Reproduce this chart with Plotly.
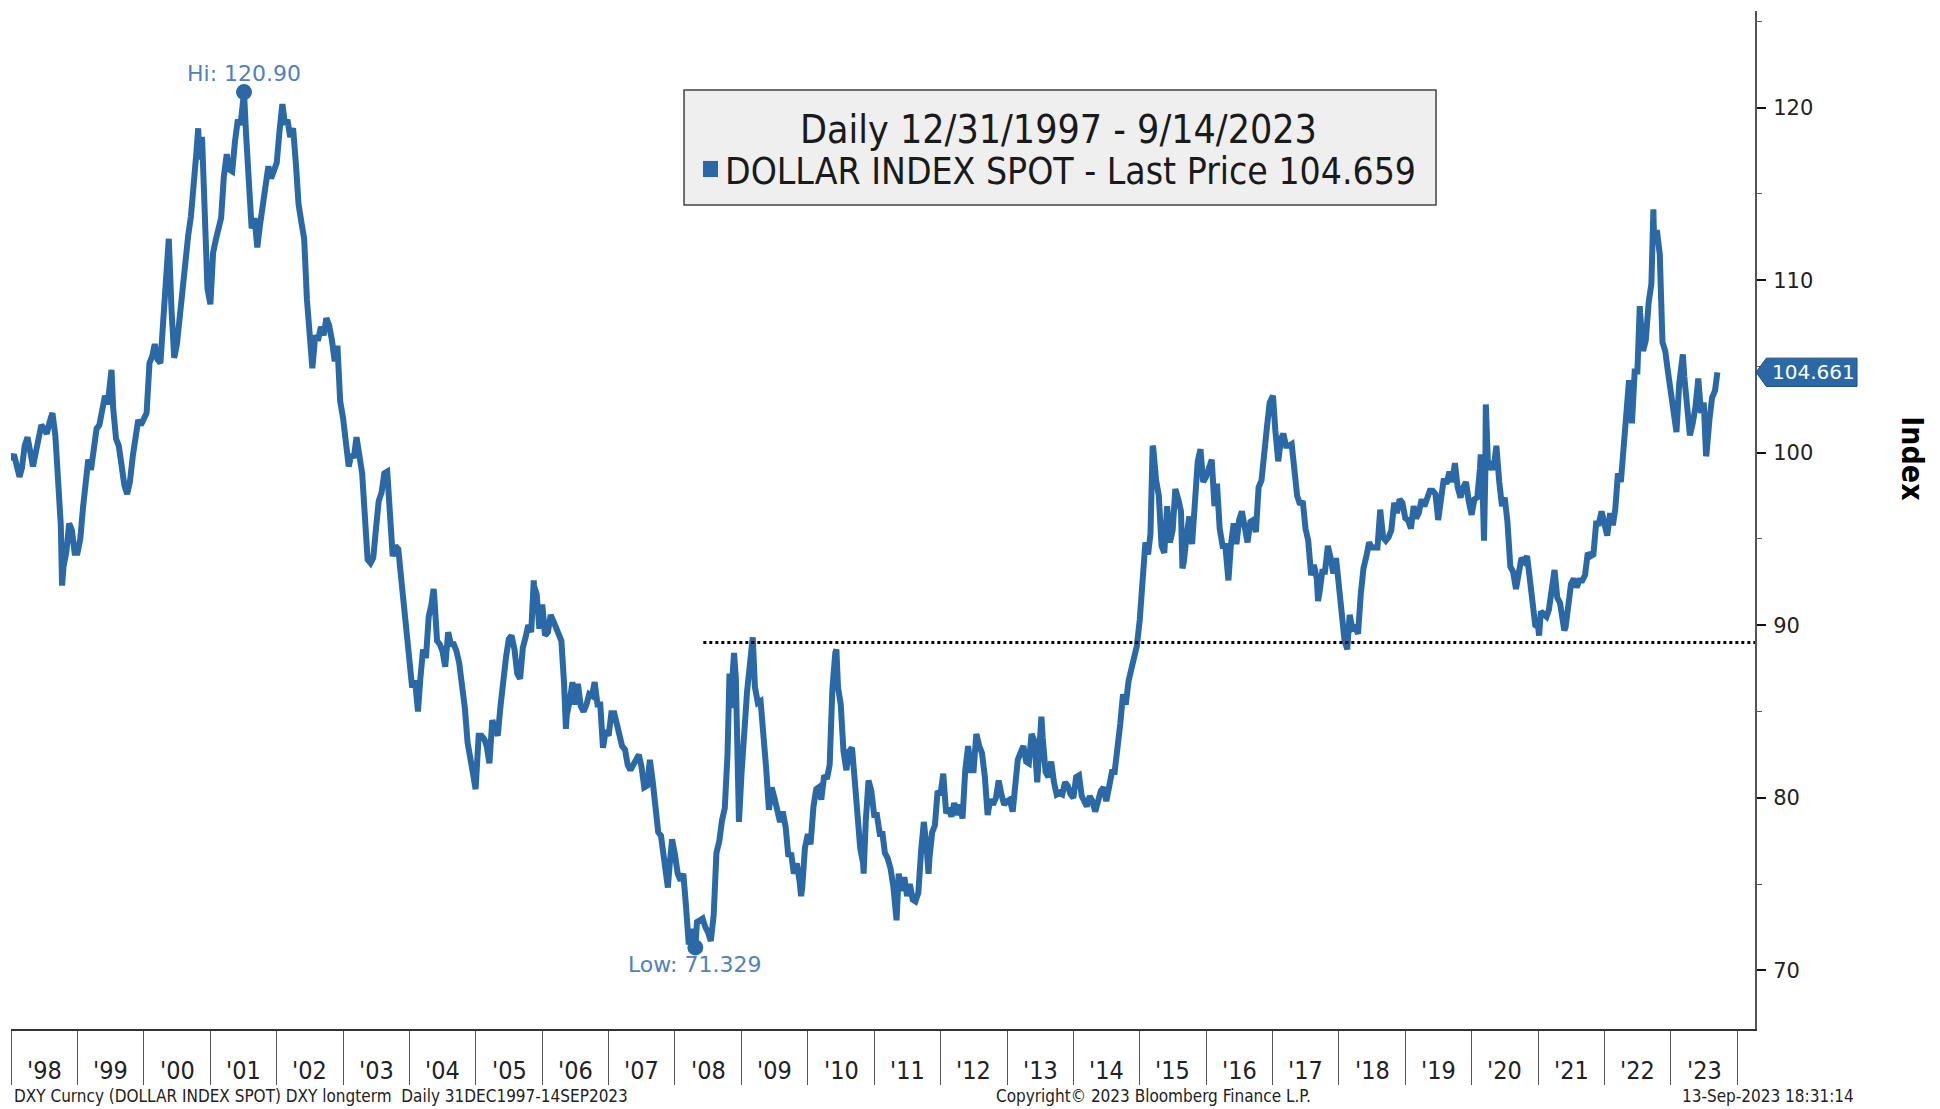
import pandas as pd
import plotly.graph_objects as go

# ---------------- data (semi-monthly readings: 1st and 16th of each month) ----------------
v1998 = [99.6, 99.9, 99.2, 98.6, 99.1, 100.4, 100.9, 100.2, 99.2, 100.0, 100.9, 101.6, 101.4, 101.1, 101.8, 102.3, 101.0, 97.6, 95.8, 93.4, 94.3, 95.9, 95.5, 94.2]
v1999 = [94.2, 95.0, 96.9, 98.6, 99.6, 99.0, 100.6, 101.4, 101.6, 102.3, 103.3, 102.8, 104.2, 102.6, 100.8, 100.4, 99.0, 98.1, 97.6, 98.3, 99.8, 100.9, 101.9, 101.6]
v2000 = [101.9, 102.3, 105.2, 105.6, 106.3, 105.4, 105.2, 107.9, 110.6, 112.0, 108.3, 105.5, 106.3, 107.9, 109.7, 111.1, 112.6, 113.7, 116.2, 117.4, 117.0, 118.3, 114.7, 109.5]
v2001 = [108.6, 111.6, 112.4, 112.9, 113.6, 116.0, 117.3, 116.4, 116.3, 118.0, 119.3, 119.0, 120.4, 118.5, 115.8, 113.0, 113.6, 111.9, 113.2, 114.5, 115.3, 116.6, 115.9, 116.3]
v2002 = [116.8, 118.6, 120.2, 119.0, 119.3, 118.3, 118.8, 116.8, 114.4, 113.4, 112.4, 108.9, 106.4, 104.9, 106.8, 106.5, 107.3, 106.8, 107.8, 107.4, 106.5, 105.3, 106.2, 103.0]
v2003 = [102.0, 100.4, 99.2, 99.9, 99.7, 100.9, 100.0, 98.8, 96.3, 93.8, 93.6, 93.9, 95.6, 97.2, 97.7, 98.8, 98.9, 96.0, 94.0, 94.6, 94.4, 92.8, 91.2, 89.0]
v2004 = [87.4, 86.4, 86.8, 85.0, 86.9, 88.6, 88.1, 90.5, 91.2, 91.8, 89.1, 88.9, 88.5, 87.6, 89.6, 88.9, 88.9, 88.5, 87.8, 86.6, 85.2, 83.2, 82.0, 81.4]
v2005 = [80.9, 83.6, 83.6, 83.4, 83.0, 82.0, 84.5, 83.9, 83.6, 85.3, 87.3, 88.2, 89.2, 89.4, 88.6, 87.2, 86.9, 88.7, 89.3, 90.0, 89.6, 92.3, 91.8, 89.8]
v2006 = [91.2, 89.4, 89.6, 90.6, 90.3, 89.9, 89.6, 89.1, 86.6, 84.8, 85.6, 86.7, 85.4, 86.6, 85.3, 85.0, 85.4, 86.0, 85.9, 86.7, 85.4, 85.4, 82.9, 83.9]
v2007 = [83.6, 84.9, 84.9, 84.1, 83.6, 83.0, 82.8, 81.9, 81.6, 81.9, 82.3, 82.5, 81.8, 80.6, 80.7, 82.2, 80.9, 79.1, 78.0, 77.8, 76.3, 75.6, 75.9, 77.6]
v2008 = [76.7, 75.6, 75.2, 75.6, 73.8, 71.9, 72.4, 71.8, 72.8, 72.9, 73.0, 72.5, 72.2, 71.7, 73.2, 76.8, 77.5, 78.7, 79.4, 82.5, 85.2, 87.8, 86.9, 79.5]
v2009 = [81.4, 84.4, 86.2, 87.7, 88.9, 86.4, 85.5, 85.6, 84.1, 81.8, 79.3, 80.6, 80.0, 79.3, 78.6, 79.2, 78.3, 76.6, 76.8, 75.6, 76.2, 75.2, 74.8, 77.1]
v2010 = [77.9, 77.3, 79.5, 80.5, 80.6, 79.9, 81.3, 81.1, 81.9, 86.3, 88.4, 86.4, 85.4, 82.7, 81.6, 82.7, 82.9, 81.0, 78.6, 77.1, 76.2, 78.7, 81.0, 80.4]
v2011 = [79.0, 79.0, 77.9, 77.9, 76.8, 76.5, 75.9, 74.9, 73.3, 75.6, 74.6, 75.4, 74.3, 75.0, 74.1, 74.0, 74.5, 76.9, 78.6, 77.2, 76.5, 78.0, 78.4, 80.4]
v2012 = [80.2, 81.4, 79.1, 79.4, 78.9, 79.7, 79.0, 79.6, 78.8, 81.6, 83.0, 81.6, 81.6, 83.7, 83.0, 82.6, 81.2, 79.0, 79.9, 79.6, 80.0, 81.0, 80.2, 79.6]
v2013 = [79.8, 79.9, 79.2, 80.8, 82.2, 82.6, 83.0, 82.1, 82.0, 83.7, 83.3, 80.9, 84.4, 83.5, 81.5, 81.2, 82.1, 80.9, 80.2, 80.3, 80.2, 80.9, 80.7, 80.2]
v2014 = [80.0, 81.2, 81.3, 80.1, 79.7, 79.5, 80.1, 79.8, 79.2, 79.9, 80.4, 80.6, 79.8, 80.6, 81.5, 81.5, 82.8, 84.3, 86.0, 85.4, 86.8, 87.6, 88.4, 88.8]
v2015 = [90.3, 92.5, 94.8, 94.1, 95.3, 100.3, 98.4, 97.5, 94.6, 94.2, 96.9, 94.8, 95.5, 97.9, 97.3, 96.6, 93.7, 95.2, 96.3, 94.7, 97.0, 99.5, 100.2, 98.3]
v2016 = [98.6, 99.0, 99.6, 96.9, 98.2, 95.6, 94.6, 94.6, 92.7, 94.6, 95.9, 94.7, 96.1, 96.6, 95.5, 94.8, 96.0, 96.1, 95.4, 98.0, 98.4, 100.5, 101.5, 102.9]
v2017 = [103.3, 101.3, 99.5, 100.8, 101.1, 100.4, 100.4, 100.5, 99.0, 97.5, 97.0, 97.2, 95.6, 94.9, 92.9, 93.5, 92.7, 91.9, 93.1, 93.1, 94.6, 93.9, 93.0, 93.9]
v2018 = [92.1, 90.4, 89.1, 88.7, 90.6, 89.8, 89.9, 89.5, 91.8, 93.3, 94.0, 94.8, 94.5, 94.5, 94.5, 96.7, 95.1, 94.9, 95.1, 95.5, 97.1, 96.5, 97.3, 97.1]
v2019 = [96.2, 96.1, 95.6, 96.9, 96.2, 96.5, 97.3, 96.9, 97.5, 97.8, 97.8, 97.6, 96.1, 97.4, 98.5, 98.2, 98.9, 98.3, 99.4, 98.0, 97.4, 98.0, 98.3, 97.2]
v2020 = [96.4, 97.3, 97.4, 99.1, 98.1, 98.6, 99.0, 99.5, 99.0, 100.4, 98.3, 96.9, 97.4, 96.0, 93.4, 93.1, 92.1, 93.1, 93.9, 93.7, 94.0, 92.7, 91.2, 90.0]
v2021 = [89.9, 90.8, 90.6, 90.5, 90.9, 91.9, 93.2, 91.6, 91.3, 90.3, 89.9, 91.1, 92.4, 92.7, 92.2, 92.6, 92.6, 92.9, 94.2, 94.0, 94.1, 95.9, 95.9, 96.6]
v2022 = [95.7, 95.2, 96.5, 95.8, 96.7, 98.8, 98.3, 100.5, 103.0, 104.2, 101.7, 104.7, 104.7, 108.1, 105.9, 106.5, 108.7, 109.8, 112.1, 112.9, 111.5, 106.4, 105.9, 104.7]
v2023 = [103.5, 102.2, 101.2, 104.0, 104.9, 104.4, 102.5, 101.0, 101.7, 102.6, 104.3, 102.3, 102.9, 99.9, 101.9, 103.2, 103.6]

# individual daily extremes
extreme_dates = ["1997-12-31", "1998-10-08", "1999-07-07", "2000-05-17", "2000-10-26", "2001-07-05",
                 "2004-02-17", "2004-05-13", "2004-12-30", "2005-11-15", "2006-05-11", "2007-11-23",
                 "2008-03-17", "2008-04-22", "2008-10-27", "2008-11-21", "2008-12-18", "2009-03-04",
                 "2009-11-25", "2010-06-07", "2010-11-04", "2011-05-04", "2011-10-27", "2013-07-09",
                 "2015-03-13", "2015-08-24", "2016-05-03", "2017-01-03", "2017-09-08", "2018-02-16",
                 "2020-02-20", "2020-03-09", "2020-03-19", "2021-01-06", "2021-05-25", "2022-07-14",
                 "2022-09-27", "2023-03-08", "2023-07-14", "2023-09-14"]
extreme_values = [99.65, 92.3, 104.8, 112.4, 118.8, 120.90,
                  85.0, 92.1, 80.5, 92.6, 84.0, 74.8,
                  71.5, 71.329, 87.2, 88.4, 78.6, 89.3,
                  74.3, 88.6, 75.6, 72.9, 75.6, 84.7,
                  100.4, 93.3, 92.6, 103.3, 91.4, 88.6,
                  99.9, 94.9, 102.8, 89.4, 89.7, 108.5,
                  114.1, 105.7, 99.8, 104.661]

year_labels = ["'98", "'99", "'00", "'01", "'02", "'03", "'04", "'05", "'06", "'07", "'08", "'09", "'10",
               "'11", "'12", "'13", "'14", "'15", "'16", "'17", "'18", "'19", "'20", "'21", "'22", "'23"]
y_ticks = [70, 80, 90, 100, 110, 120]
support_level = 89.0
last_tag = "104.661"
legend_last = "104.659"

# ---------------- build series ----------------
first_year = 1998
yearly = [v1998, v1999, v2000, v2001, v2002, v2003, v2004, v2005, v2006, v2007, v2008, v2009, v2010,
          v2011, v2012, v2013, v2014, v2015, v2016, v2017, v2018, v2019, v2020, v2021, v2022, v2023]
rows = []
for k, arr in enumerate(yearly):
    yr = first_year + k
    for i, v in enumerate(arr):
        rows.append((pd.Timestamp(yr, i // 2 + 1, 1 if i % 2 == 0 else 16), v))
for d, v in zip(extreme_dates, extreme_values):
    rows.append((pd.Timestamp(d), v))
df = pd.DataFrame(rows, columns=["date", "value"]).sort_values("date").reset_index(drop=True)

hi_idx = df["value"].idxmax()
lo_idx = df["value"].idxmin()
hi_d, hi_v = df.loc[hi_idx, "date"], df.loc[hi_idx, "value"]
lo_d, lo_v = df.loc[lo_idx, "date"], df.loc[lo_idx, "value"]
last_d, last_v = df["date"].iloc[-1], df["value"].iloc[-1]

BLUE = "#2a69a6"
LIGHTBLUE = "#4f81bd"
NARROW = "Liberation Sans Narrow, DejaVu Sans Condensed, Arial Narrow, sans-serif"
AXFONT = "DejaVu Sans, Verdana, sans-serif"

fig = go.Figure()
fig.add_trace(go.Scatter(x=df["date"], y=df["value"], mode="lines",
                         line=dict(color=BLUE, width=6), hoverinfo="x+y", showlegend=False))
# hi / low markers
fig.add_trace(go.Scatter(x=[hi_d, lo_d], y=[hi_v, lo_v], mode="markers",
                         marker=dict(color=BLUE, size=16), showlegend=False, hoverinfo="skip"))
# dotted support line
fig.add_trace(go.Scatter(x=[pd.Timestamp("2008-06-05"), pd.Timestamp("2024-04-08")],
                         y=[support_level, support_level], mode="lines",
                         line=dict(color="black", width=3, dash="dot"), showlegend=False, hoverinfo="skip"))

year_starts = [pd.Timestamp(first_year + k, 1, 1) for k in range(len(year_labels) + 1)]

fig.update_layout(
    width=1940, height=1109,
    margin=dict(l=11, r=185, t=11, b=80),
    paper_bgcolor="white", plot_bgcolor="white",
    xaxis=dict(range=[pd.Timestamp("1997-12-31"), pd.Timestamp("2024-04-08")],
               showgrid=False, zeroline=False, showline=True, linecolor="#333", linewidth=1.5,
               tickmode="array", tickvals=year_starts, ticktext=[""] * len(year_starts),
               ticks="outside", ticklen=54, tickcolor="#555", tickwidth=1),
    yaxis=dict(range=[66.6, 125.6], side="right", showgrid=False, zeroline=False,
               showline=True, linecolor="#555", linewidth=2, mirror=False,
               tickmode="array", tickvals=y_ticks, ticks="outside", ticklen=9, tickwidth=2,
               tickcolor="#111", ticklabelstandoff=3,
               tickfont=dict(family=AXFONT, size=21, color="#222"),
               minor=dict(dtick=5, ticks="outside", ticklen=5, tickwidth=1, tickcolor="#555", showgrid=False)),
)

# year labels centred in each year
for k, lab in enumerate(year_labels):
    mid = year_starts[k] + (year_starts[k + 1] - year_starts[k]) / 2
    fig.add_annotation(x=mid, xref="x", y=-0.0403, yref="paper", text=lab, showarrow=False,
                       font=dict(family=NARROW, size=25, color="#222"), yanchor="middle")

# legend box
fig.add_shape(type="rect", xref="paper", yref="paper", x0=0.3859, x1=0.8171, y0=0.8094, y1=0.9224,
              fillcolor="#efefef", line=dict(color="#444", width=1.5), layer="above")
fig.add_shape(type="rect", xref="paper", yref="paper", x0=0.3968, x1=0.4054, y0=0.8369, y1=0.8527,
              fillcolor=BLUE, line=dict(width=0), layer="above")
fig.add_annotation(x=0.6009, xref="paper", y=0.8838, yref="paper",
                   text="Daily 12/31/1997 - 9/14/2023", showarrow=False,
                   font=dict(family=NARROW, size=39, color="#1a1a1a"), xanchor="center", yanchor="middle")
fig.add_annotation(x=0.4085, xref="paper", y=0.8428, yref="paper",
                   text="DOLLAR INDEX SPOT - Last Price %s" % legend_last,
                   showarrow=False, font=dict(family=NARROW, size=37, color="#1a1a1a"),
                   xanchor="left", yanchor="middle")

# hi / low labels
fig.add_annotation(x=hi_d, y=hi_v, text="Hi: %.2f" % hi_v, showarrow=False, yshift=4,
                   font=dict(family=AXFONT, size=22, color=LIGHTBLUE), yanchor="bottom")
fig.add_annotation(x=lo_d, y=lo_v, text="Low: %.3f" % lo_v, showarrow=False, yshift=-3,
                   font=dict(family=AXFONT, size=22, color=LIGHTBLUE), yanchor="top")

# last price tag
h = 0.82
fig.add_shape(type="path", xref="paper", yref="y",
              path="M 1.0006 %f L 1.0065 %f L 1.0585 %f L 1.0585 %f L 1.0065 %f Z" % (
                  last_v, last_v + h, last_v + h, last_v - h, last_v - h),
              fillcolor=BLUE, line=dict(color="#1d4f80", width=1), layer="above")
fig.add_annotation(x=1.0335, xref="paper", y=last_v, yref="y", text=last_tag, showarrow=False,
                   font=dict(family=AXFONT, size=20, color="white"), xanchor="center", yanchor="middle")

# axis title
fig.add_annotation(x=1.101, xref="paper", y=0.561, yref="paper", text="<b>Index</b>", showarrow=False,
                   textangle=90, font=dict(family=NARROW, size=30, color="black"))

# footer
fig.add_annotation(x=0.0006, xref="paper", y=-0.066, yref="paper",
                   text="DXY Curncy (DOLLAR INDEX SPOT) DXY longterm  Daily 31DEC1997-14SEP2023",
                   showarrow=False, xanchor="left", yanchor="middle",
                   font=dict(family=NARROW, size=17, color="#222"))
fig.add_annotation(x=0.655, xref="paper", y=-0.066, yref="paper",
                   text="Copyright\u00a9 2023 Bloomberg Finance L.P.", showarrow=False,
                   xanchor="center", yanchor="middle", font=dict(family=NARROW, size=17, color="#222"))
fig.add_annotation(x=1.058, xref="paper", y=-0.066, yref="paper",
                   text="13-Sep-2023 18:31:14", showarrow=False, xanchor="right", yanchor="middle",
                   font=dict(family=NARROW, size=17, color="#222"))

fig.write_html("out.html", config={"displayModeBar": False})

# remove the browser's default page margin so the figure sits at the window's top-left corner
with open("out.html", "r", encoding="utf-8") as f:
    html = f.read()
html = html.replace("<head>", "<head><style>html,body{margin:0;padding:0;overflow:hidden;}</style>", 1)
with open("out.html", "w", encoding="utf-8") as f:
    f.write(html)
